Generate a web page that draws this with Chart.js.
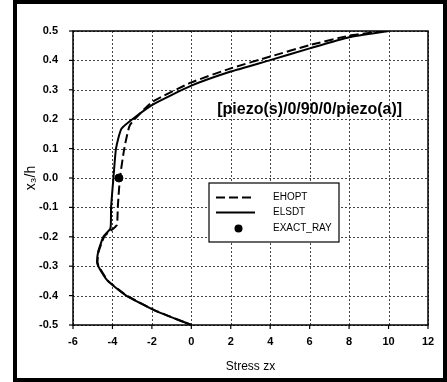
<!DOCTYPE html>
<html>
<head>
<meta charset="utf-8">
<script src="https://cdn.jsdelivr.net/npm/chart.js@4/dist/chart.umd.min.js"></script>
<style>
  html, body { margin: 0; padding: 0; background: #fff; }
  #wrap { width: 447px; height: 382px; position: relative; }
</style>
</head>
<body>
<div id="wrap"><canvas id="chart"></canvas></div>
<script>
// values (x = stress zx, y = x3/h)
const ehoptX = [9.8, 8, 6, 4, 2, 0, -2, -3.11, -3.4, -3.62, -3.73, -3.78, -4.2, -4.42, -4.7, -4.76, -4.7, -4.22, -3.28, -1.85, 0];
const ehoptY = [0.5, 0.484, 0.452, 0.413, 0.373, 0.325, 0.258, 0.18, 0.1, 0.0, -0.1, -0.16, -0.185, -0.2, -0.25, -0.285, -0.3, -0.35, -0.4, -0.45, -0.5];

const elsdtX = [10, 8, 6, 4, 2, 0, -2, -3.53, -3.82, -3.95, -4.07, -4.1, -4.46, -4.72, -4.78, -4.72, -4.24, -3.3, -1.87, 0];
const elsdtY = [0.5, 0.479, 0.441, 0.401, 0.362, 0.314, 0.248, 0.169, 0.1, 0.0, -0.1, -0.171, -0.2, -0.25, -0.285, -0.3, -0.35, -0.4, -0.45, -0.5];

const exactX = [-3.67];
const exactY = [0.0];

const xTicksMin = -6, xTicksMax = 12, xStep = 2;
const yTicksMin = -0.5, yTicksMax = 0.5, yStep = 0.1;

const layupLabel = "[piezo(s)/0/90/0/piezo(a)]";
const layupAt = { x: 6.0, y: 0.231 };

const FONT = "'Liberation Sans', Arial, sans-serif";

function toPoints(xs, ys) {
  return xs.map((x, i) => ({ x: x, y: ys[i] }));
}

// white page, dotted grid, thick outer frame, plot border, label text
const framePlugin = {
  id: "frame",
  beforeDraw(chart) {
    const ctx = chart.ctx;
    ctx.save();
    ctx.fillStyle = "#fff";
    ctx.fillRect(0, 0, chart.width, chart.height);
    ctx.restore();
  },
  beforeDatasetsDraw(chart) {
    const ctx = chart.ctx;
    const a = chart.chartArea;
    const xs = chart.scales.x, ys = chart.scales.y;
    ctx.save();
    ctx.strokeStyle = "#444";
    ctx.lineWidth = 1;
    ctx.setLineDash([2, 2]);
    xs.ticks.forEach((t) => {
      const px = Math.round(xs.getPixelForValue(t.value)) + 0.5;
      ctx.beginPath();
      ctx.moveTo(px, a.top);
      ctx.lineTo(px, a.bottom);
      ctx.stroke();
    });
    ys.ticks.forEach((t) => {
      const py = Math.round(ys.getPixelForValue(t.value)) + 0.5;
      ctx.beginPath();
      ctx.moveTo(a.left, py);
      ctx.lineTo(a.right, py);
      ctx.stroke();
    });
    // tick marks outside the axes
    ctx.setLineDash([]);
    ctx.strokeStyle = "#000";
    ctx.lineWidth = 1.2;
    xs.ticks.forEach((t) => {
      const px = xs.getPixelForValue(t.value);
      ctx.beginPath();
      ctx.moveTo(px, a.bottom);
      ctx.lineTo(px, a.bottom + 4);
      ctx.stroke();
    });
    ys.ticks.forEach((t) => {
      const py = ys.getPixelForValue(t.value);
      ctx.beginPath();
      ctx.moveTo(a.left - 4, py);
      ctx.lineTo(a.left, py);
      ctx.stroke();
    });
    ctx.restore();
  },
  afterDraw(chart) {
    const ctx = chart.ctx;
    const a = chart.chartArea;
    ctx.save();
    ctx.strokeStyle = "#000";
    ctx.lineWidth = 1.5;
    ctx.strokeRect(a.left, a.top, a.right - a.left, a.bottom - a.top);

    ctx.lineWidth = 4;
    ctx.strokeRect(15, 2, 430, 378);

    // layup label
    const xs = chart.scales.x, ys = chart.scales.y;
    ctx.fillStyle = "#000";
    ctx.font = "bold 16px " + FONT;
    ctx.textAlign = "center";
    ctx.textBaseline = "middle";
    ctx.fillText(layupLabel, xs.getPixelForValue(layupAt.x), ys.getPixelForValue(layupAt.y));
    ctx.restore();
  },
};

// legend box drawn inside the plot
const legendBox = {
  id: "legendBox",
  afterDraw(chart) {
    const ctx = chart.ctx;
    const bx = 209, by = 183, bw = 130, bh = 59;
    ctx.save();
    ctx.fillStyle = "#fff";
    ctx.fillRect(bx, by, bw, bh);
    ctx.strokeStyle = "#000";
    ctx.lineWidth = 1.2;
    ctx.strokeRect(bx, by, bw, bh);

    const rows = [197.5, 212.5, 228.5];
    ctx.font = "10px " + FONT;
    ctx.textBaseline = "middle";
    ctx.textAlign = "left";
    chart.data.datasets.forEach((ds, i) => {
      const y = rows[i];
      if (ds.showLine) {
        ctx.beginPath();
        ctx.setLineDash(ds.borderDash || []);
        ctx.lineWidth = ds.borderWidth;
        ctx.strokeStyle = ds.borderColor;
        ctx.moveTo(216, y);
        ctx.lineTo(255, y);
        ctx.stroke();
        ctx.setLineDash([]);
      } else {
        ctx.beginPath();
        ctx.fillStyle = ds.pointBackgroundColor;
        ctx.arc(238.5, y, ds.pointRadius, 0, Math.PI * 2);
        ctx.fill();
      }
      ctx.fillStyle = "#000";
      ctx.fillText(ds.label, 273, y);
    });
    ctx.restore();
  },
};

const chart = new Chart("chart", {
  type: "scatter",
  data: {
    datasets: [
      {
        label: "EHOPT",
        data: toPoints(ehoptX, ehoptY),
        showLine: true,
        borderColor: "#000",
        borderWidth: 2,
        borderDash: [9, 4],
        pointRadius: 0,
        tension: 0.15,
      },
      {
        label: "ELSDT",
        data: toPoints(elsdtX, elsdtY),
        showLine: true,
        borderColor: "#000",
        borderWidth: 2,
        pointRadius: 0,
        tension: 0.15,
      },
      {
        label: "EXACT_RAY",
        data: toPoints(exactX, exactY),
        showLine: false,
        pointRadius: 4,
        pointBackgroundColor: "#000",
        pointBorderColor: "#000",
      },
    ],
  },
  options: {
    responsive: true,
    maintainAspectRatio: false,
    animation: false,
    layout: { padding: { left: 0, top: 31, right: 19, bottom: 0 } },
    plugins: {
      legend: { display: false },
      tooltip: { enabled: false },
    },
    scales: {
      x: {
        type: "linear",
        min: xTicksMin,
        max: xTicksMax,
        afterFit: (s) => { s.height = 57; },
        ticks: {
          stepSize: xStep,
          color: "#000",
          padding: 2,
          font: { family: FONT, size: 11, weight: "bold" },
        },
        grid: { display: false },
        border: { display: false },
        title: {
          display: true,
          text: "Stress zx",
          color: "#000",
          font: { family: FONT, size: 12 },
          padding: { top: 0, bottom: 8 },
        },
      },
      y: {
        type: "linear",
        min: yTicksMin,
        max: yTicksMax,
        afterFit: (s) => { s.width = 73; },
        ticks: {
          stepSize: yStep,
          color: "#000",
          padding: 7,
          font: { family: FONT, size: 11, weight: "bold" },
          callback: (v) => {
            const t = Number(v).toFixed(1);
            return t === "-0.0" ? "0.0" : t;
          },
        },
        grid: { display: false },
        border: { display: false },
        title: {
          display: true,
          text: "x₃/h",
          color: "#000",
          font: { family: FONT, size: 14 },
          padding: { top: 23, bottom: 0 },
        },
      },
    },
  },
  plugins: [framePlugin, legendBox],
});
</script>
</body>
</html>
